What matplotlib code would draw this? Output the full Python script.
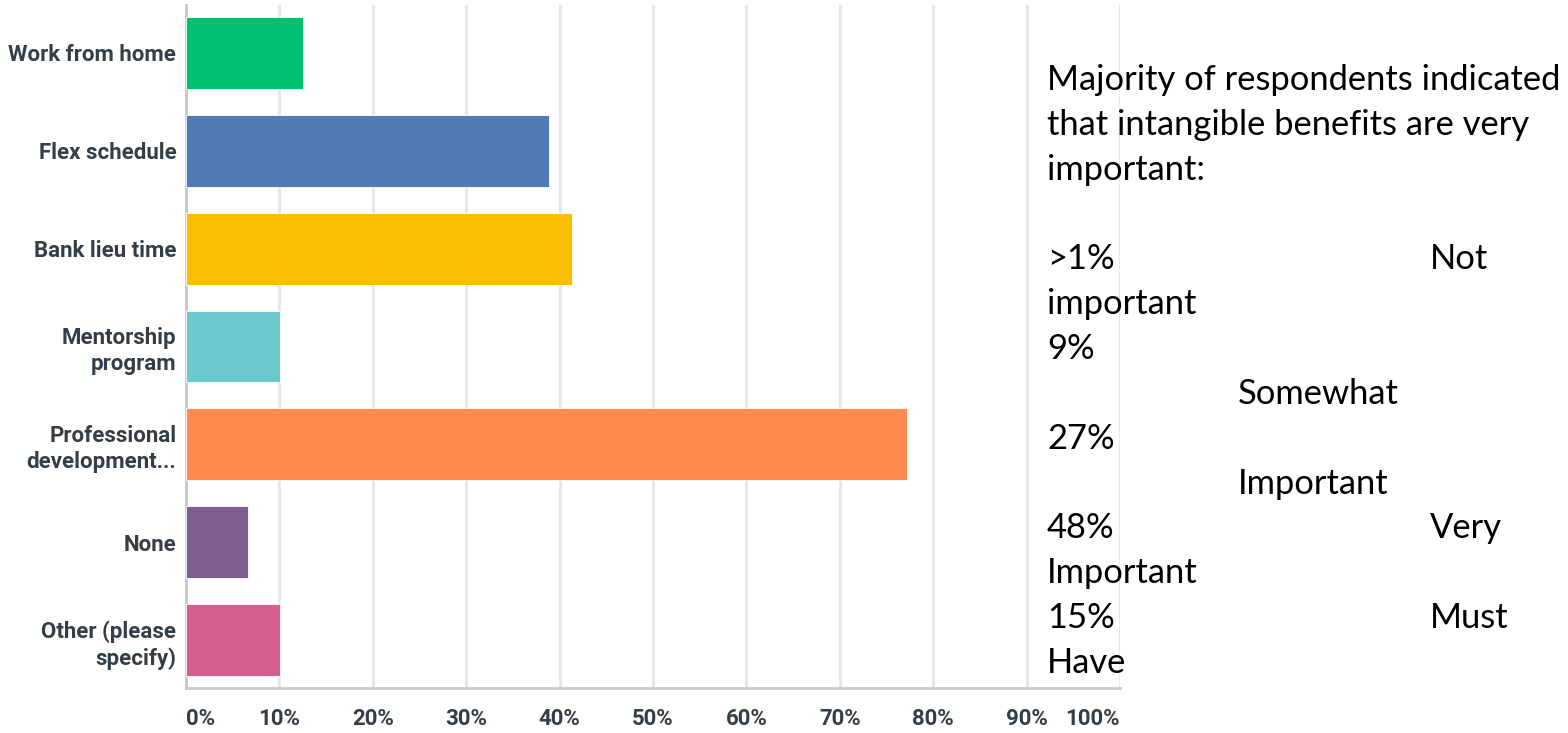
import matplotlib.pyplot as plt

# survey results: which benefits matter most
categories = ["Work from home", "Flex schedule", "Bank lieu time", "Mentorship\nprogram",
              "Professional\ndevelopment...", "None", "Other (please\nspecify)"]
percent = [12.5, 38.9, 41.3, 10.1, 77.2, 6.6, 10.1]
bar_colors = ["#00bf6f", "#507cb6", "#f9be00", "#6bc8cd", "#ff8b4f", "#7d5e90", "#d25f90"]
xticks = [0, 10, 20, 30, 40, 50, 60, 70, 80, 90, 100]

# side note: (text, line number, column)
note_lines = [
    ("Majority of respondents indicated", 0, 0),
    ("that intangible benefits are very", 1, 0),
    ("important:", 2, 0),
    (">1%", 4, 0), ("Not", 4, 2),
    ("important", 5, 0),
    ("9%", 6, 0),
    ("Somewhat", 7, 1),
    ("27%", 8, 0),
    ("Important", 9, 1),
    ("48%", 10, 0), ("Very", 10, 2),
    ("Important", 11, 0),
    ("15%", 12, 0), ("Must", 12, 2),
    ("Have", 13, 0),
]

fig = plt.figure(figsize=(15.68, 7.33), dpi=100)
ax = fig.add_axes([186 / 1568, 1 - 688 / 733, (1120 - 186) / 1568, (688 - 5) / 733])

y = list(range(len(categories)))
ax.barh(y, percent, height=0.735, color=bar_colors, edgecolor="white", linewidth=0.6, zorder=3)
ax.set_ylim(len(categories) - 0.51, -0.49)
ax.set_xlim(0, 100)

ax.set_xticks(xticks)
ax.set_xticklabels([f"{t}%" for t in xticks])
ax.set_yticks(y)
ax.set_yticklabels(categories)
ax.tick_params(length=0)
ax.tick_params(axis="y", pad=7)
ax.tick_params(axis="x", pad=22)
for lab in ax.get_xticklabels() + ax.get_yticklabels():
    lab.set_fontfamily("Roboto")
    lab.set_fontweight("bold")
    lab.set_color("#333e48")
    lab.set_fontsize(16)
for lab in ax.get_xticklabels():
    lab.set_verticalalignment("center")
for lab in ax.get_yticklabels():
    lab.set_linespacing(1.25)
ax.get_xticklabels()[0].set_ha("left")
ax.get_xticklabels()[-1].set_ha("right")

ax.grid(axis="x", color="#e6e6e6", linewidth=2, zorder=0)
for side in ["top", "right"]:
    ax.spines[side].set_visible(False)
for side in ["left", "bottom"]:
    ax.spines[side].set_color("#c8c8c8")
    ax.spines[side].set_linewidth(2)

# note text to the right of the chart
col_x = [1047, 1238, 1430]
for text, line, col in note_lines:
    base_y = 90 + line * 44.85
    fig.text(col_x[col] / 1568, 1 - base_y / 733, text, fontsize=24.8, family="Lato",
             color="black", va="baseline", ha="left")

fig.savefig("out.png", dpi=100, facecolor="white")
